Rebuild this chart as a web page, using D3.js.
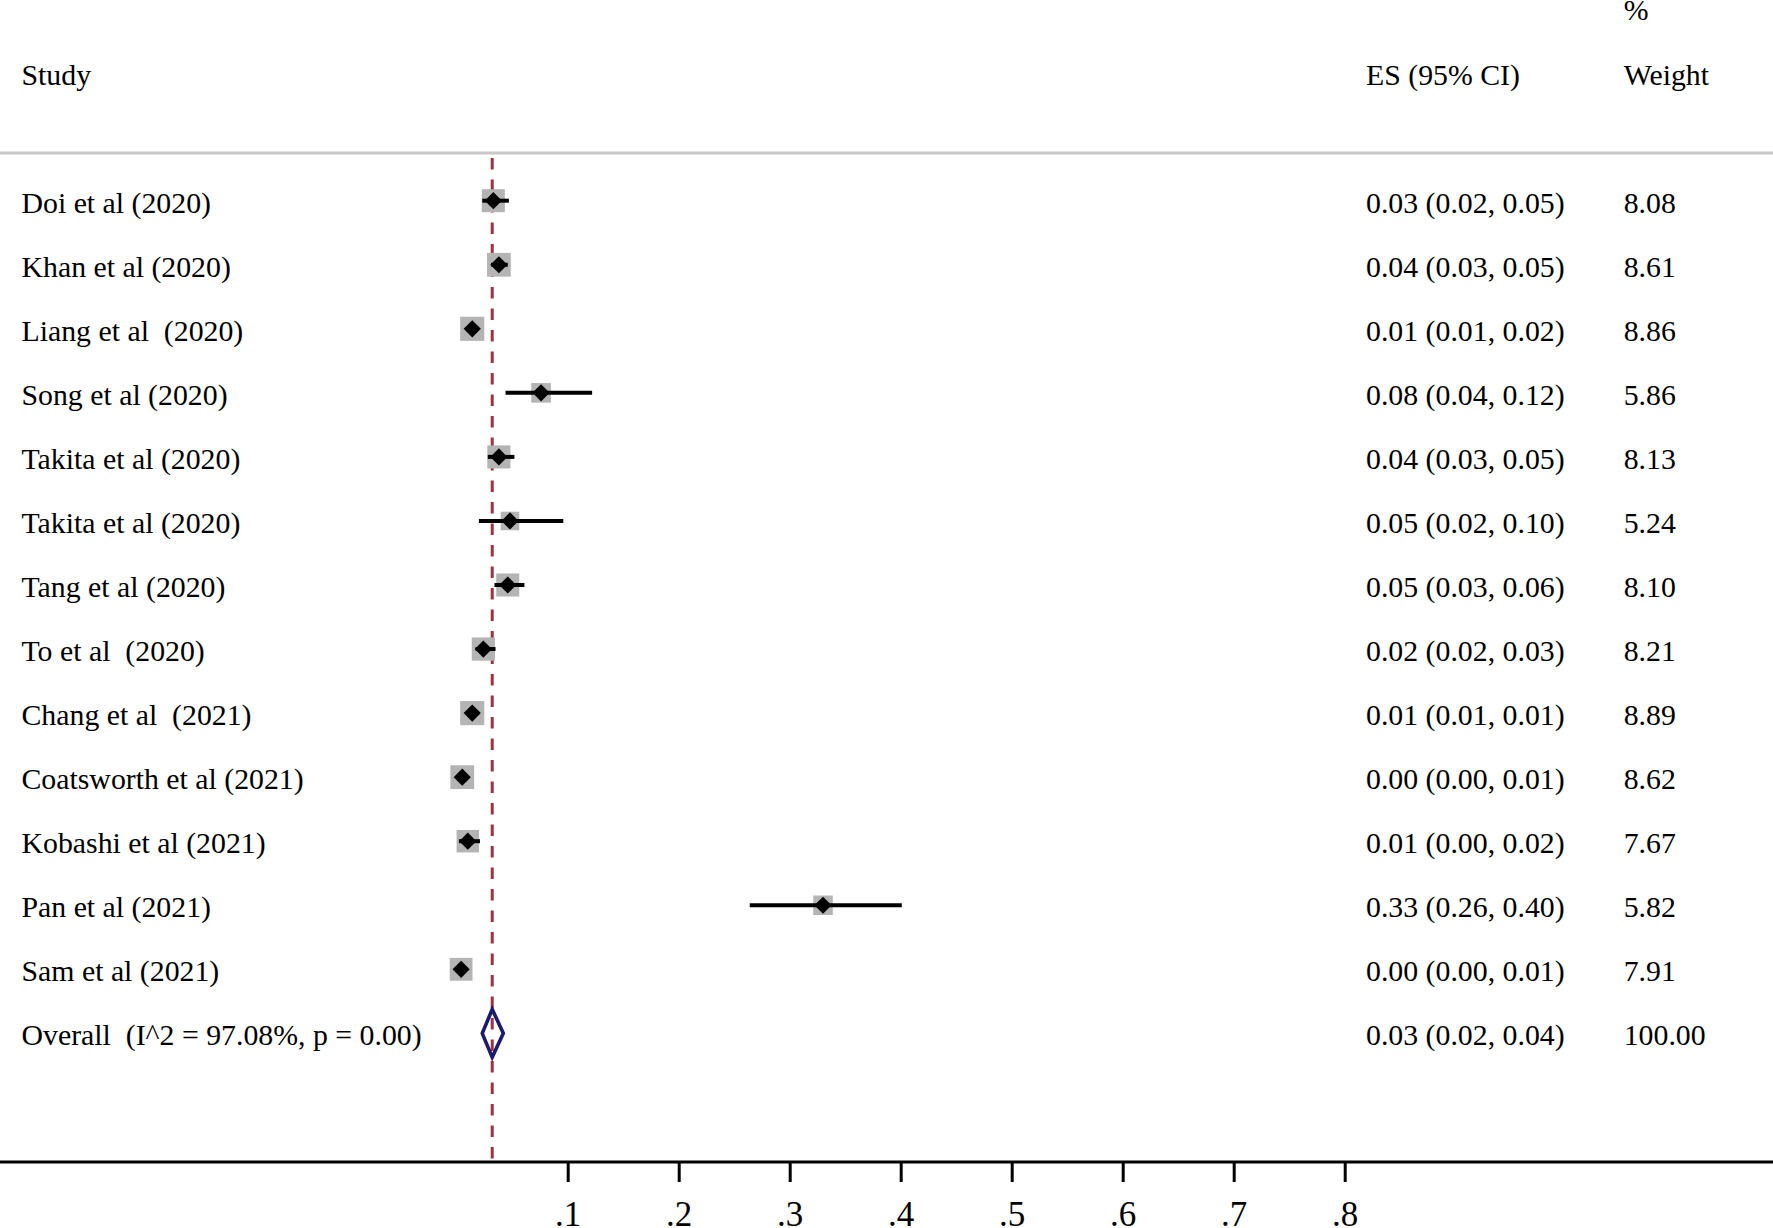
<!DOCTYPE html>
<html>
<head>
<meta charset="utf-8">
<script src="https://cdn.jsdelivr.net/npm/d3@7"></script>
<style>
  html, body { margin: 0; padding: 0; background: #fff; }
  svg { display: block; }
  text { font-family: "Liberation Serif", "Times New Roman", serif; white-space: pre; fill: #000; }
</style>
</head>
<body>
<svg id="chart" width="1773" height="1228"></svg>
<script>
// ---------- data ----------
const studies = [
  "Doi et al (2020)", "Khan et al (2020)", "Liang et al  (2020)", "Song et al (2020)",
  "Takita et al (2020)", "Takita et al (2020)", "Tang et al (2020)", "To et al  (2020)",
  "Chang et al  (2021)", "Coatsworth et al (2021)", "Kobashi et al (2021)",
  "Pan et al (2021)", "Sam et al (2021)"
];
const es = [0.033, 0.038, 0.014, 0.076, 0.038, 0.048, 0.046, 0.024, 0.014, 0.005, 0.010, 0.330, 0.004];
const ciLow = [0.023, 0.031, 0.010, 0.044, 0.028, 0.020, 0.034, 0.017, 0.009, 0.002, 0.002, 0.264, 0.001];
const ciHigh = [0.047, 0.046, 0.018, 0.122, 0.052, 0.096, 0.061, 0.035, 0.016, 0.009, 0.021, 0.401, 0.008];
const esLabels = [
  "0.03 (0.02, 0.05)", "0.04 (0.03, 0.05)", "0.01 (0.01, 0.02)", "0.08 (0.04, 0.12)",
  "0.04 (0.03, 0.05)", "0.05 (0.02, 0.10)", "0.05 (0.03, 0.06)", "0.02 (0.02, 0.03)",
  "0.01 (0.01, 0.01)", "0.00 (0.00, 0.01)", "0.01 (0.00, 0.02)", "0.33 (0.26, 0.40)",
  "0.00 (0.00, 0.01)"
];
const weights = [8.08, 8.61, 8.86, 5.86, 8.13, 5.24, 8.10, 8.21, 8.89, 8.62, 7.67, 5.82, 7.91];
const weightLabels = ["8.08", "8.61", "8.86", "5.86", "8.13", "5.24", "8.10", "8.21", "8.89", "8.62", "7.67", "5.82", "7.91"];

const overallLabel = "Overall  (I^2 = 97.08%, p = 0.00)";
const overallES = 0.032, overallLow = 0.023, overallHigh = 0.042;
const overallESLabel = "0.03 (0.02, 0.04)";
const overallWeightLabel = "100.00";

const tickValues = [0.1, 0.2, 0.3, 0.4, 0.5, 0.6, 0.7, 0.8];
const tickLabels = [".1", ".2", ".3", ".4", ".5", ".6", ".7", ".8"];

// ---------- layout ----------
const W = 1773, H = 1228;
const svg = d3.select("#chart");
const fontSize = 29.8;

const x = d3.scaleLinear().domain([0, 0.1]).range([456.7, 567.7]);
const y = d3.scaleLinear().domain([0, 1]).range([200.7, 264.75]);

const colStudy = 21.5, colES = 1366, colW = 1623.7;
const axisY = 1162;
const headerLineY = 153;

// header
svg.append("text").attr("x", colStudy).attr("y", 85).attr("font-size", fontSize).text("Study");
svg.append("text").attr("x", colES).attr("y", 85).attr("font-size", fontSize).text("ES (95% CI)");
svg.append("text").attr("x", colW).attr("y", 85).attr("font-size", fontSize).text("Weight");
svg.append("text").attr("x", colW).attr("y", 20).attr("font-size", fontSize).text("%");

svg.append("line")
  .attr("x1", 0).attr("x2", W).attr("y1", headerLineY).attr("y2", headerLineY)
  .attr("stroke", "#c8c8c8").attr("stroke-width", 3);

// overall dashed reference line
svg.append("line")
  .attr("x1", x(overallES)).attr("x2", x(overallES))
  .attr("y1", 158).attr("y2", axisY)
  .attr("stroke", "#9e3340").attr("stroke-width", 3)
  .attr("stroke-dasharray", "11.5,10");

// study rows
const g = svg.append("g");
const rowG = g.selectAll("g.row").data(studies).join("g").attr("class", "row");

rowG.append("rect")
  .attr("x", (d, i) => x(es[i]) - 4.05 * Math.sqrt(weights[i]))
  .attr("y", (d, i) => y(i) - 4.05 * Math.sqrt(weights[i]))
  .attr("width", (d, i) => 8.1 * Math.sqrt(weights[i]))
  .attr("height", (d, i) => 8.1 * Math.sqrt(weights[i]))
  .attr("fill", "#b4b4b4");

rowG.append("line")
  .attr("x1", (d, i) => x(ciLow[i])).attr("x2", (d, i) => x(ciHigh[i]))
  .attr("y1", (d, i) => y(i)).attr("y2", (d, i) => y(i))
  .attr("stroke", "#000").attr("stroke-width", 4);

rowG.append("path")
  .attr("d", (d, i) => {
    const cx = x(es[i]), cy = y(i), r = 8.6;
    return `M${cx - r},${cy}L${cx},${cy - r}L${cx + r},${cy}L${cx},${cy + r}Z`;
  })
  .attr("fill", "#000");

rowG.append("text").attr("x", colStudy).attr("y", (d, i) => y(i) + 12)
  .attr("font-size", fontSize).text(d => d);
rowG.append("text").attr("x", colES).attr("y", (d, i) => y(i) + 12)
  .attr("font-size", fontSize).text((d, i) => esLabels[i]);
rowG.append("text").attr("x", colW).attr("y", (d, i) => y(i) + 12)
  .attr("font-size", fontSize).text((d, i) => weightLabels[i]);

// overall row
const oi = studies.length;
const oy = y(oi);
svg.append("path")
  .attr("d", `M${x(overallLow)},${oy}L${x(overallES)},${oy - 24}L${x(overallHigh)},${oy}L${x(overallES)},${oy + 24}Z`)
  .attr("fill", "none").attr("stroke", "#1a1a6e").attr("stroke-width", 3.6)
  .attr("stroke-linejoin", "miter");
svg.append("text").attr("x", colStudy).attr("y", oy + 12).attr("font-size", fontSize).text(overallLabel);
svg.append("text").attr("x", colES).attr("y", oy + 12).attr("font-size", fontSize).text(overallESLabel);
svg.append("text").attr("x", colW).attr("y", oy + 12).attr("font-size", fontSize).text(overallWeightLabel);

// x axis
svg.append("line")
  .attr("x1", 0).attr("x2", W).attr("y1", axisY).attr("y2", axisY)
  .attr("stroke", "#000").attr("stroke-width", 2.8);

const axis = d3.axisBottom(x)
  .tickValues(tickValues)
  .tickFormat((d, i) => tickLabels[i])
  .tickSize(20)
  .tickPadding(19);

const ax = svg.append("g").attr("transform", `translate(0,${axisY})`).call(axis);
ax.select(".domain").remove();
ax.selectAll(".tick line").attr("stroke", "#000").attr("stroke-width", 3);
ax.selectAll(".tick text")
  .attr("font-size", 35)
  .attr("font-family", "Liberation Serif, Times New Roman, serif")
  .attr("fill", "#000");
</script>
</body>
</html>
